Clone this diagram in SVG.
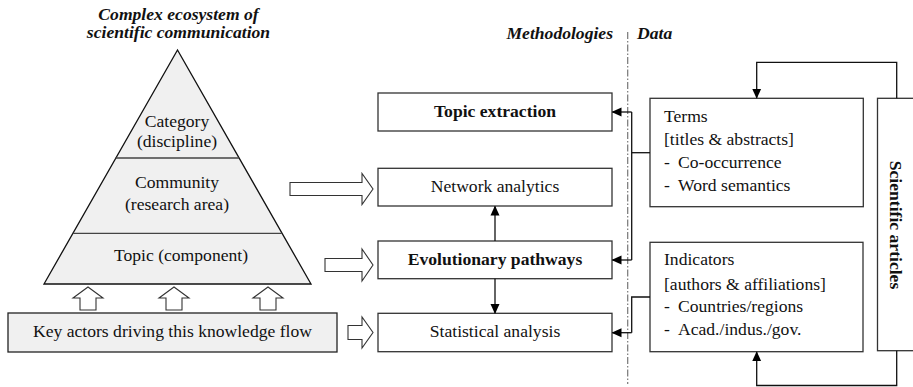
<svg xmlns="http://www.w3.org/2000/svg" width="913" height="387" viewBox="0 0 913 387">
<style>
text{font-family:"Liberation Serif","Times New Roman",serif;font-size:17.6px;fill:#111}
.c{text-anchor:middle}
.b{font-weight:bold}
.bi{font-weight:bold;font-style:italic}
.box{fill:#fff;stroke:#333;stroke-width:1.3}
.gbox{fill:#f0f0f0;stroke:#222;stroke-width:1.3}
.blk{fill:#fff;stroke:#333;stroke-width:1.1}
.ln{fill:none;stroke:#111;stroke-width:1.3}
</style>
<defs>
<marker id="ah" markerWidth="10" markerHeight="10" refX="9" refY="5" orient="auto" markerUnits="userSpaceOnUse">
<path d="M0,0.5 L10,5 L0,9.5 Z" fill="#000"/>
</marker>
</defs>
<rect width="913" height="387" fill="#fff"/>

<g id="title">
<text class="bi c" x="178.5" y="20">Complex ecosystem of</text>
<text class="bi c" x="178.5" y="38">scientific communication</text>
</g>
<g id="headers">
<text class="bi" x="613" y="39" text-anchor="end">Methodologies</text>
<text class="bi" x="637" y="39">Data</text>
<line x1="627.7" y1="32" x2="627.7" y2="384" stroke="#777" stroke-width="1.2" stroke-dasharray="7,2,1.5,2"/>
</g>

<g id="pyramid">
<polygon points="177.5,50 44,284 311,284" fill="#f0f0f0" stroke="#111" stroke-width="1.3"/>
<line x1="115.6" y1="158" x2="238.9" y2="158" stroke="#444" stroke-width="1.3"/>
<line x1="72.8" y1="233.3" x2="282" y2="233.3" stroke="#444" stroke-width="1.3"/>
<text class="c" x="177" y="127">Category</text>
<text class="c" x="177" y="147">(discipline)</text>
<text class="c" x="177" y="188">Community</text>
<text class="c" x="177" y="210">(research area)</text>
<text class="c" x="181" y="261">Topic (component)</text>
</g>

<g id="up-arrows">
<path class="blk" d="M88,287 L103,298 L96,298 L96,310 L80,310 L80,298 L73,298 Z"/>
<path class="blk" d="M174,287 L189,298 L182,298 L182,310 L166,310 L166,298 L159,298 Z"/>
<path class="blk" d="M268,287 L283,298 L276,298 L276,310 L260,310 L260,298 L253,298 Z"/>
</g>

<g id="key-actors">
<rect class="gbox" x="8" y="313" width="329" height="39"/>
<text class="c" x="172.5" y="337">Key actors driving this knowledge flow</text>
</g>

<g id="block-arrows">
<path class="blk" d="M290,182.5 L362,182.5 L362,173.5 L373,189 L362,204.5 L362,195.5 L290,195.5 Z"/>
<path class="blk" d="M325,258.5 L362,258.5 L362,249 L373,265 L362,281 L362,271.5 L325,271.5 Z"/>
<path class="blk" d="M348,325.5 L362,325.5 L362,317 L373,332.5 L362,348 L362,339.5 L348,339.5 Z"/>
</g>

<g id="topic-extraction">
<rect class="box" x="378" y="93" width="234" height="38"/>
<text class="b c" x="495" y="117">Topic extraction</text>
</g>
<g id="network-analytics">
<rect class="box" x="378" y="168.3" width="234" height="37.7"/>
<text class="c" x="495" y="192">Network analytics</text>
</g>
<g id="evolutionary-pathways">
<rect class="box" x="378" y="241" width="234" height="37.7"/>
<text class="b c" x="495" y="265">Evolutionary pathways</text>
</g>
<g id="statistical-analysis">
<rect class="box" x="378" y="313.3" width="234" height="38.4"/>
<text class="c" x="495" y="337">Statistical analysis</text>
</g>

<g id="terms">
<rect class="box" x="650" y="98.3" width="213.3" height="108.4"/>
<text x="664" y="122">Terms</text>
<text x="664" y="145">[titles &amp; abstracts]</text>
<text x="664" y="168">-</text><text x="678" y="168">Co-occurrence</text>
<text x="664" y="191">-</text><text x="678" y="191">Word semantics</text>
</g>
<g id="indicators">
<rect class="box" x="650" y="242.3" width="213" height="109.4"/>
<text x="664" y="265">Indicators</text>
<text x="664" y="290">[authors &amp; affiliations]</text>
<text x="664" y="312">-</text><text x="678" y="312">Countries/regions</text>
<text x="664" y="335">-</text><text x="678" y="335">Acad./indus./gov.</text>
</g>
<g id="scientific-articles">
<rect class="box" x="877.5" y="98.3" width="45" height="252.4"/>
<text class="b c" transform="translate(889.5,225) rotate(90)" x="0" y="0">Scientific articles</text>
</g>

<g id="connectors">
<line class="ln" x1="495" y1="241" x2="495" y2="206.5" marker-end="url(#ah)"/>
<line class="ln" x1="495" y1="278.7" x2="495" y2="313" marker-end="url(#ah)"/>
<polyline class="ln" points="650,152.7 631.7,152.7"/>
<polyline class="ln" points="631.7,112 631.7,260"/>
<line class="ln" x1="631.7" y1="112" x2="612.5" y2="112" marker-end="url(#ah)"/>
<line class="ln" x1="631.7" y1="260" x2="612.5" y2="260" marker-end="url(#ah)"/>
<polyline class="ln" points="650,297 631.7,297 631.7,332.7"/>
<line class="ln" x1="631.7" y1="332.7" x2="612.5" y2="332.7" marker-end="url(#ah)"/>
<polyline class="ln" points="896.7,98.3 896.7,62.3 756.7,62.3 756.7,97.8" marker-end="url(#ah)"/>
<polyline class="ln" points="896.7,350.7 896.7,385.5 756.7,385.5 756.7,352.2" marker-end="url(#ah)"/>
</g>
</svg>
